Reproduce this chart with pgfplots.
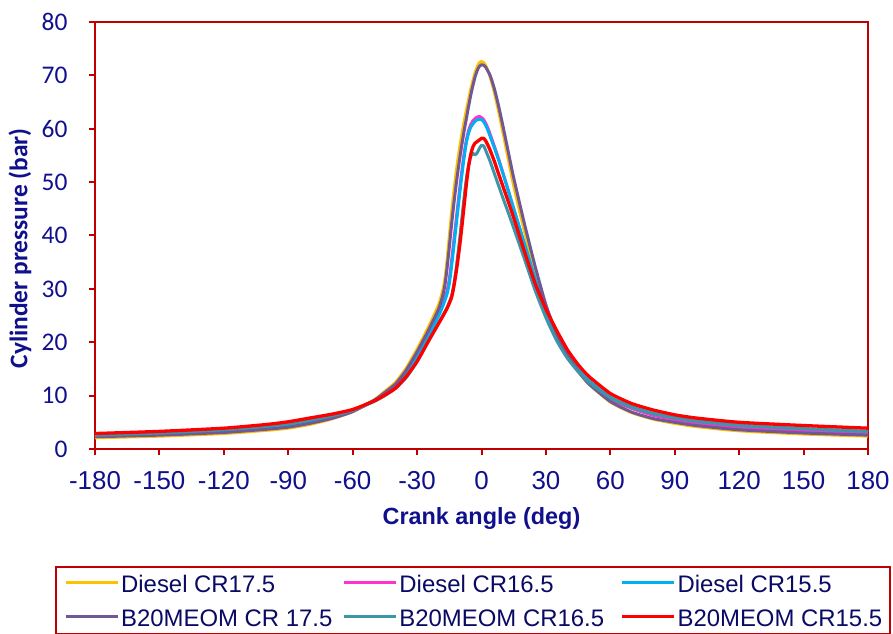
\documentclass[border=0pt]{standalone}
\usepackage{pgfplots}
\pgfplotsset{compat=1.18}
\usepackage{fontspec}
\setmainfont{Liberation Sans}
\newfontfamily\carlito{Carlito}
\newfontfamily\legfont{Liberation Sans}
\definecolor{axred}{RGB}{192,0,0}
\definecolor{navyt}{RGB}{16,16,140}
\definecolor{legt}{RGB}{10,10,100}
\definecolor{cgold}{RGB}{255,192,0}
\definecolor{cmag}{RGB}{255,51,204}
\definecolor{ccyan}{RGB}{0,176,240}
\definecolor{cpurp}{RGB}{112,88,150}
\definecolor{cteal}{RGB}{60,150,170}
\definecolor{cred}{RGB}{255,0,0}
\begin{document}
\begin{tikzpicture}
\begin{axis}[
  name=ax,
  scale only axis,
  width=773bp, height=427bp,
  xmin=-180, xmax=180, ymin=0, ymax=80,
  xtick={-180,-150,-120,-90,-60,-30,0,30,60,90,120,150,180},
  xticklabels={-180,-150,-120,-90,-60,-30,0,30,60,90,120,150,180},
  ytick={0,10,20,30,40,50,60,70,80},
  yticklabels={0,10,20,30,40,50,60,70,80},
  axis line style={draw=axred, line width=2bp},
  tick style={draw=axred, line width=2bp},
  tick align=outside, tick pos=left,
  major tick length=6bp,
  x tick label style={font=\fontsize{26}{30}\selectfont, text=navyt, yshift=-13bp},
  y tick label style={font=\carlito\fontsize{25.5}{30}\selectfont, text=navyt, xshift=-18bp},
  xlabel={\bfseries Crank angle (deg)},
  ylabel={\bfseries Cylinder pressure (bar)},
  xlabel style={font=\fontsize{23.5}{28}\selectfont, text=navyt, at={(axis description cs:0.5,-0.1616)}, anchor=center},
  ylabel style={font=\carlito\fontsize{25.5}{30}\selectfont, text=navyt, at={(axis description cs:-0.097,0.47)}, anchor=center, rotate=0},
  legend columns=3,
  legend style={at={(axis description cs:-0.0512,-0.274)}, anchor=north west,
    draw=axred, line width=1.5bp, font=\legfont\fontsize{24}{28}\selectfont, text=legt,
    inner xsep=8bp, inner ysep=2bp,
    nodes={inner sep=0pt, text height=24bp, text depth=5bp, anchor=west},
    row sep=5bp,
    /tikz/every odd column/.append style={column sep=2bp},
    /tikz/column 2/.append style={column sep=10bp},
    /tikz/column 4/.append style={column sep=16.5bp}},
  legend image code/.code={\draw[#1, line width=3bp] (0bp,1bp) -- (52bp,1bp);},
  every axis plot/.append style={line width=3bp, line join=round, smooth, tension=0.35, mark=none},
]
\addplot[cgold] table {
-180 2.1
-150 2.4
-120 2.9
-100 3.5
-90 3.9
-80 4.6
-70 5.6
-60 7.0
-50 9.2
-45 10.8
-40 12.5
-35 15.2
-30 18.7
-25 22.6
-20 27.0
-18 29.8
-17 32.0
-16 35.5
-15 39.8
-14 44.0
-13 47.8
-12 51.2
-11 54.2
-10 56.9
-9 59.3
-8 61.5
-7 63.6
-6 65.5
-5 67.4
-4 69.0
-3 70.5
-2 71.6
-1 72.4
0 72.6
1 72.4
2 71.8
4 69.8
6 66.8
8 63.2
10 59.3
12 55.3
15 49.3
20 40.8
25 33.0
30 26.3
35 21.2
40 17.4
45 14.5
50 12.2
60 8.8
70 6.8
80 5.6
90 4.8
100 4.2
120 3.4
150 2.8
180 2.4
};
\addlegendentry{Diesel CR17.5}
\addplot[cmag] table {
-180 2.4
-150 2.8
-120 3.3
-100 3.9
-90 4.3
-80 5.0
-70 5.9
-60 7.1
-50 9.1
-45 10.5
-40 12.0
-35 14.5
-30 17.7
-25 21.4
-20 25.4
-18 27.3
-17 28.4
-16 29.7
-15 31.8
-14 35.0
-13 38.6
-12 42.2
-11 45.8
-10 49.3
-9 52.6
-8 55.6
-7 58.0
-6 59.7
-5 60.8
-4 61.5
-3 61.9
-2 62.2
-1 62.3
0 62.1
1 61.7
2 61.0
3 60.1
4 59.0
6 56.7
8 54.3
10 51.7
12 49.1
15 45.0
20 38.3
25 31.6
30 25.8
35 21.0
40 17.4
45 14.6
50 12.5
60 9.4
70 7.6
80 6.3
90 5.5
100 4.9
120 4.0
150 3.4
180 3.0
};
\addlegendentry{Diesel CR16.5}
\addplot[ccyan] table {
-180 2.6
-150 3.0
-120 3.5
-100 4.1
-90 4.5
-80 5.2
-70 6.0
-60 7.2
-50 9.1
-45 10.4
-40 11.9
-35 14.2
-30 17.3
-25 20.9
-20 24.9
-18 26.8
-17 27.9
-16 29.1
-15 31.0
-14 34.0
-13 37.5
-12 41.2
-11 44.8
-10 48.4
-9 51.8
-8 54.9
-7 57.5
-6 59.2
-5 60.3
-4 60.9
-3 61.4
-2 61.7
-1 61.8
0 61.7
1 61.3
2 60.6
3 59.7
4 58.6
6 56.4
8 54.1
10 51.6
12 49.0
15 45.0
20 38.5
25 31.9
30 26.1
35 21.3
40 17.7
45 14.9
50 12.8
60 9.7
70 7.9
80 6.7
90 5.9
100 5.3
120 4.5
150 3.8
180 3.3
};
\addlegendentry{Diesel CR15.5}
\addplot[cpurp] table {
-180 2.3
-150 2.6
-120 3.1
-100 3.7
-90 4.1
-80 4.8
-70 5.7
-60 7.0
-50 9.1
-45 10.6
-40 12.2
-35 14.8
-30 18.2
-25 22.0
-20 26.2
-18 28.8
-17 30.8
-16 34.0
-15 37.8
-14 41.8
-13 45.5
-12 48.9
-11 52.0
-10 54.8
-9 57.4
-8 59.8
-7 62.0
-6 64.2
-5 66.3
-4 68.1
-3 69.7
-2 70.9
-1 71.7
0 72.0
1 71.9
2 71.5
4 70.0
6 67.5
8 64.2
10 60.5
12 56.6
15 50.8
20 42.2
25 34.2
30 27.0
35 21.6
40 17.6
45 14.6
50 12.2
60 8.9
70 6.9
80 5.7
90 5.0
100 4.4
120 3.6
150 3.0
180 2.6
};
\addlegendentry{B20MEOM CR 17.5}
\addplot[cteal] table {
-180 2.6
-150 3.0
-120 3.6
-100 4.3
-90 4.7
-80 5.4
-70 6.2
-60 7.2
-50 8.9
-45 10.0
-40 11.4
-35 13.4
-30 16.4
-25 20.0
-20 23.6
-18 25.0
-16 26.5
-14 28.6
-13 30.5
-12 33.2
-11 36.5
-10 40.0
-9 43.8
-8 47.5
-7 50.8
-6 53.2
-5 54.8
-4 55.4
-3 55.1
-2 55.5
-1 56.3
0 56.9
1 56.8
2 55.9
3 54.9
4 53.9
6 51.6
8 49.3
10 47.0
12 44.8
15 41.4
20 35.6
25 29.7
30 24.6
35 20.3
40 17.0
45 14.5
50 12.5
60 9.6
70 7.8
80 6.6
90 5.8
100 5.2
120 4.4
150 3.8
180 3.3
};
\addlegendentry{B20MEOM CR16.5}
\addplot[cred, line width=3.3bp] table {
-180 2.9
-150 3.3
-120 3.9
-100 4.6
-90 5.1
-80 5.8
-70 6.5
-60 7.4
-50 9.0
-45 10.1
-40 11.4
-35 13.6
-30 16.4
-25 20.0
-20 23.5
-18 24.9
-16 26.4
-14 28.3
-13 30.2
-12 32.6
-11 35.4
-10 38.6
-9 42.2
-8 46.0
-7 49.8
-6 53.0
-5 55.2
-4 56.6
-3 57.3
-2 57.6
-1 57.9
0 58.2
1 58.2
2 57.7
3 56.9
4 56.0
6 53.9
8 51.5
10 49.2
12 46.9
15 43.3
20 37.0
25 31.0
30 26.2
35 22.2
40 18.6
45 15.8
50 13.6
60 10.4
70 8.5
80 7.3
90 6.4
100 5.8
120 5.0
150 4.4
180 3.9
};
\addlegendentry{B20MEOM CR15.5}
\end{axis}
\pgfresetboundingbox
\path (ax.south west) ++(-95bp,-185bp) rectangle ++(893bp,634bp);
\end{tikzpicture}
\end{document}
